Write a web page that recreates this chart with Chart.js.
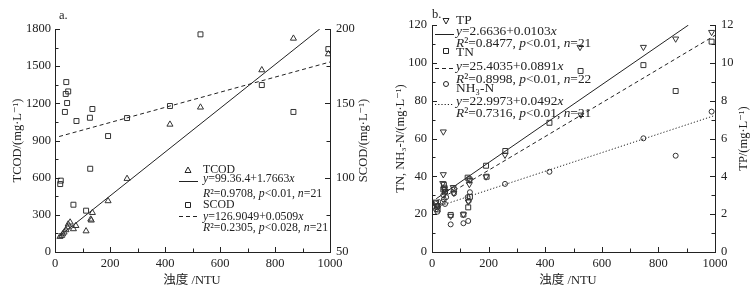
<!DOCTYPE html>
<html>
<head>
<meta charset="utf-8">
<script src="https://cdn.jsdelivr.net/npm/chart.js@4.4.0/dist/chart.umd.min.js"></script>
<style>
    html, body { margin: 0; padding: 0; background: #fff; }
    #wrap { display: flex; width: 751px; height: 292px; }
    canvas { display: block; }
</style>
</head>
<body>
<div id="wrap">
    <canvas id="chartA" width="375" height="292"></canvas>
    <canvas id="chartB" width="376" height="292"></canvas>
</div>
<script>
// panel a: TCOD / SCOD against turbidity (NTU)
const tcodX = [18, 24, 28, 33, 40, 45, 48, 55, 67, 76, 113, 130, 132, 136, 193, 262, 418, 529, 752, 867, 994];
const tcodY = [124, 132, 145, 159, 178, 200, 224, 240, 186, 212, 169, 264, 256, 317, 412, 592, 1030, 1168, 1469, 1724, 1598];
const scodX = [19, 21, 36, 39, 41, 44, 48, 67, 78, 113, 127, 128, 136, 193, 262, 418, 529, 752, 867, 994];
const scodY = [95.7, 98, 144.2, 156.3, 164.3, 150.2, 158, 81.8, 138.1, 77.8, 140.3, 106, 146.2, 128, 140.1, 148.2, 196.4, 162.3, 144.2, 186.5];
const tcodFit = [99.364, 1.7663];
const scodFit = [126.9049, 0.0509];
const tcodFitX = [15, 963];
const scodFitX = [15, 1000];

// panel b: TP / TN / NH3-N against turbidity
const tpX = [14, 18, 38, 40, 40, 44, 48, 66, 75, 77, 111, 128, 132, 134, 191, 258, 523, 526, 747, 861, 988];
const tpY = [2.65, 2.45, 3.63, 6.36, 4.1, 3.35, 3.2, 1.9, 3.42, 3.12, 1.98, 2.66, 3.58, 3.8, 3.98, 5.13, 10.83, 7.25, 10.83, 11.27, 11.62];
const tnX = [14, 18, 20, 40, 42, 44, 46, 66, 77, 111, 126, 128, 132, 134, 191, 193, 259, 415, 525, 747, 861, 988];
const tnY = [25.7, 24, 22.5, 33.1, 35.5, 34, 31.9, 19.6, 33, 19.8, 39.3, 23.6, 38.4, 29.2, 45.6, 39.8, 53.4, 68.3, 95.7, 98.8, 85.1, 111.2];
const nhX = [14, 19, 22, 38, 40, 42, 44, 46, 50, 66, 78, 111, 126, 128, 130, 134, 258, 415, 747, 861, 988];
const nhY = [22.6, 21.3, 24.5, 26.5, 30.1, 27.8, 33, 25.4, 29, 14.6, 31, 15.2, 29, 16.4, 27, 31.6, 36, 42.4, 60.1, 50.9, 74.2];
const tpFit = [2.6636, 0.0103];
const tnFit = [25.4035, 0.0891];
const nhFit = [22.9973, 0.0492];
const tpFitX = [15, 906];
const tnFitX = [15, 1000];
const nhFitX = [12, 1000];

const INK = '#222';
const SERIF = '"Liberation Serif", "DejaVu Serif", "Noto Sans CJK SC", serif';
const FONT = { family: SERIF, size: 12.5 };
const FONT_CSS = '12.5px ' + SERIF;

const pts = (xs, ys) => xs.map((x, i) => ({ x, y: ys[i] }));
const fitPts = (xs, coef) => xs.map(x => ({ x, y: coef[0] + coef[1] * x }));

function markerSet(data, axis, style, radius, rotation) {
    return {
        data, yAxisID: axis, showLine: false,
        pointStyle: style, pointRadius: radius, pointHoverRadius: radius,
        pointRotation: rotation || 0,
        pointBorderColor: '#333', pointBackgroundColor: 'rgba(0,0,0,0)', pointBorderWidth: 1
    };
}

function fitSet(data, axis, dash) {
    return {
        data, yAxisID: axis, showLine: true, pointRadius: 0,
        borderColor: INK, borderWidth: 1, borderDash: dash, fill: false
    };
}

function xAxis() {
    return {
        type: 'linear', position: 'bottom', min: 0, max: 1000,
        ticks: { stepSize: 200, font: FONT, color: INK, padding: 4, maxRotation: 0, callback: v => String(v) },
        grid: { display: false, drawTicks: false },
        border: { display: true, color: INK, width: 1 },
        afterFit: s => { s.height = 40; }
    };
}

function yAxis(pos, min, max, step, width, pad) {
    return {
        type: 'linear', position: pos, min, max,
        ticks: { stepSize: step, font: FONT, color: INK, padding: pad, callback: v => String(v) },
        grid: { display: false, drawTicks: false },
        border: { display: true, color: INK, width: 1 },
        afterFit: s => { s.width = width; }
    };
}

function drawRich(ctx, str, x, y, size) {
    // segments between underscores are italic
    str.split('_').forEach((part, i) => {
        ctx.font = (i % 2 ? 'italic ' : '') + size + 'px ' + SERIF;
        ctx.fillText(part, x, y);
        x += ctx.measureText(part).width;
    });
}

function drawMarker(ctx, kind, x, y) {
    ctx.beginPath();
    if (kind === 'tri') {
        ctx.moveTo(x, y - 3.5); ctx.lineTo(x + 3, y + 2); ctx.lineTo(x - 3, y + 2); ctx.closePath();
    } else if (kind === 'tridown') {
        ctx.moveTo(x, y + 3.5); ctx.lineTo(x + 3, y - 2); ctx.lineTo(x - 3, y - 2); ctx.closePath();
    } else if (kind === 'rect') {
        ctx.rect(x - 2.5, y - 2.5, 5, 5);
    } else {
        ctx.arc(x, y, 2.5, 0, Math.PI * 2);
    }
    ctx.stroke();
}

function rotatedText(ctx, text, x, y) {
    ctx.save();
    ctx.translate(x, y);
    ctx.rotate(-Math.PI / 2);
    ctx.fillText(text, 0, 0);
    ctx.restore();
}

const decor = {
    id: 'decor',
    afterDraw(chart, args, o) {
        const ctx = chart.ctx;
        const area = chart.chartArea;
        ctx.save();
        ctx.strokeStyle = INK;
        ctx.fillStyle = INK;
        ctx.lineWidth = 1;

        // inward major and minor ticks
        Object.values(chart.scales).forEach(scale => {
            const vals = scale.ticks.map(t => t.value);
            const step = vals[1] - vals[0];
            const marks = [];
            vals.forEach((v, i) => {
                marks.push([v, 5]);
                if (i < vals.length - 1) marks.push([v + step / 2, 3.5]);
            });
            marks.forEach(([v, len]) => {
                const p = Math.round(scale.getPixelForValue(v)) + 0.5;
                ctx.beginPath();
                if (scale.axis === 'x') {
                    ctx.moveTo(p, scale.top); ctx.lineTo(p, scale.top - len);
                } else if (scale.position === 'left') {
                    ctx.moveTo(scale.right, p); ctx.lineTo(scale.right + len, p);
                } else {
                    ctx.moveTo(scale.left, p); ctx.lineTo(scale.left - len, p);
                }
                ctx.stroke();
            });
        });

        // axis titles
        ctx.font = FONT_CSS;
        ctx.textAlign = 'center';
        ctx.textBaseline = 'middle';
        const midY = (area.top + area.bottom) / 2;
        rotatedText(ctx, o.leftTitle, o.leftTitleX, midY);
        rotatedText(ctx, o.rightTitle, o.rightTitleX, midY);
        ctx.fillText(o.xTitle, o.xTitleX, o.xTitleY);

        // panel tag
        ctx.textAlign = 'left';
        ctx.fillText(o.tag, o.tagX, o.tagY);

        // legend
        o.legend.forEach(row => {
            if (row.marker) drawMarker(ctx, row.marker, o.markerX, row.markerY);
            if (row.dash) {
                ctx.setLineDash(row.dash);
                ctx.beginPath();
                ctx.moveTo(o.lineX[0], row.lineY + 0.5);
                ctx.lineTo(o.lineX[1], row.lineY + 0.5);
                ctx.stroke();
                ctx.setLineDash([]);
            }
            drawRich(ctx, row.text, o.textX, row.y, o.legendSize);
        });
        ctx.restore();
    }
};

const commonPlugins = { legend: { display: false }, tooltip: { enabled: false } };

new Chart(document.getElementById('chartA'), {
    type: 'scatter',
    data: {
        datasets: [
            markerSet(pts(tcodX, tcodY), 'y', 'triangle', 3.5),
            markerSet(pts(scodX, scodY), 'y2', 'rect', 3.5),
            fitSet(fitPts(tcodFitX, tcodFit), 'y', []),
            fitSet(fitPts(scodFitX, scodFit), 'y2', [4, 3])
        ]
    },
    options: {
        responsive: false,
        animation: false,
        layout: { padding: { top: 29, left: 0, right: 0, bottom: 0 } },
        scales: {
            x: xAxis(),
            y: yAxis('left', 0, 1800, 300, 55, 4),
            y2: yAxis('right', 50, 200, 50, 45, 6)
        },
        plugins: {
            ...commonPlugins,
            decor: {
                leftTitle: 'TCOD/(mg·L⁻¹)', leftTitleX: 18,
                rightTitle: 'SCOD/(mg·L⁻¹)', rightTitleX: 364,
                xTitle: '浊度 /NTU', xTitleX: 192, xTitleY: 281,
                tag: 'a.', tagX: 59, tagY: 16,
                markerX: 188, lineX: [179, 198], textX: 203, legendSize: 11.8,
                legend: [
                    { text: 'TCOD', y: 170, marker: 'tri', markerY: 170.5 },
                    { text: '_y_=99.36.4+1.7663_x_', y: 179, dash: [], lineY: 181 },
                    { text: '_R_²=0.9708, _p_<0.01, _n_=21', y: 193.5 },
                    { text: 'SCOD', y: 205, marker: 'rect', markerY: 205 },
                    { text: '_y_=126.9049+0.0509_x_', y: 216.5, dash: [4, 3], lineY: 216 },
                    { text: '_R_²=0.2305, _p_<0.028, _n_=21', y: 228 }
                ]
            }
        }
    },
    plugins: [decor]
});

new Chart(document.getElementById('chartB'), {
    type: 'scatter',
    data: {
        datasets: [
            markerSet(pts(tpX, tpY), 'y2', 'triangle', 3.5, 180),
            markerSet(pts(tnX, tnY), 'y', 'rect', 3.5),
            markerSet(pts(nhX, nhY), 'y', 'circle', 2.5),
            fitSet(fitPts(tpFitX, tpFit), 'y2', []),
            fitSet(fitPts(tnFitX, tnFit), 'y', [4, 3]),
            fitSet(fitPts(nhFitX, nhFit), 'y', [1.2, 2])
        ]
    },
    options: {
        responsive: false,
        animation: false,
        layout: { padding: { top: 25, left: 0, right: 0, bottom: 0 } },
        scales: {
            x: xAxis(),
            y: yAxis('left', 0, 120, 20, 57, 5),
            y2: yAxis('right', 0, 12, 2, 36, 6)
        },
        plugins: {
            ...commonPlugins,
            decor: {
                leftTitle: 'TN, NH₃-N/(mg·L⁻¹)', leftTitleX: 26,
                rightTitle: 'TP/(mg·L⁻¹)', rightTitleX: 369,
                xTitle: '浊度 /NTU', xTitleX: 193, xTitleY: 281,
                tag: 'b.', tagX: 57, tagY: 15,
                markerX: 71, lineX: [60, 79], textX: 81, legendSize: 13.4,
                legend: [
                    { text: 'TP', y: 20, marker: 'tridown', markerY: 20.5 },
                    { text: '_y_=2.6636+0.0103_x_', y: 31.5, dash: [], lineY: 34 },
                    { text: '_R_²=0.8477, _p_<0.01, _n_=21', y: 43.5 },
                    { text: 'TN', y: 52.5, marker: 'rect', markerY: 51 },
                    { text: '_y_=25.4035+0.0891_x_', y: 66.5, dash: [4, 3], lineY: 68 },
                    { text: '_R_²=0.8998, _p_<0.01, _n_=22', y: 79 },
                    { text: 'NH₃-N', y: 88.5, marker: 'circle', markerY: 84 },
                    { text: '_y_=22.9973+0.0492_x_', y: 101.5, dash: [1.2, 2], lineY: 104 },
                    { text: '_R_²=0.7316, _p_<0.01, _n_=21', y: 113.5 }
                ]
            }
        }
    },
    plugins: [decor]
});
</script>
</body>
</html>
